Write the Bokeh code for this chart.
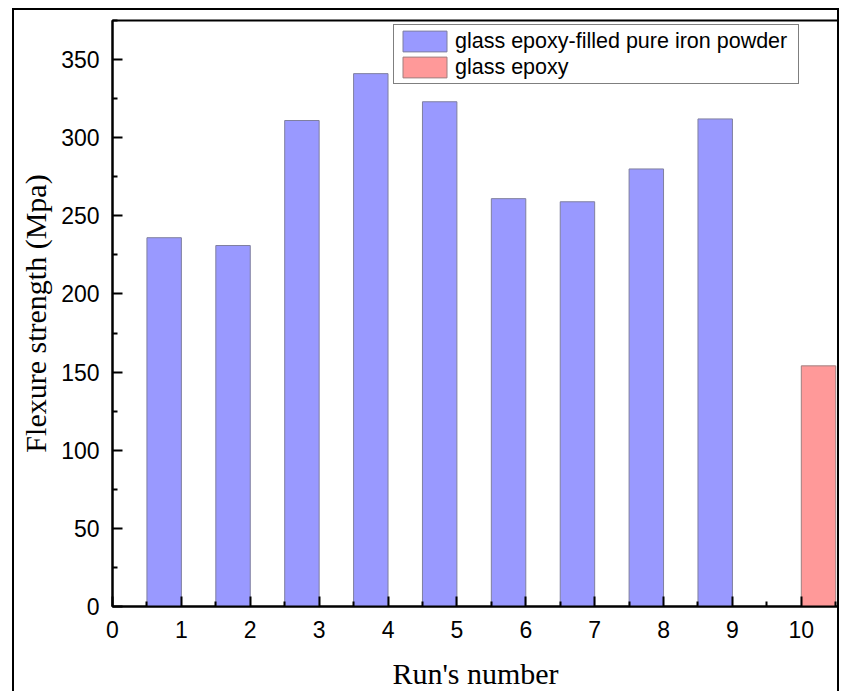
from bokeh.plotting import figure
from bokeh.models import Range1d, FixedTicker, Legend, LegendItem, ColumnDataSource
from bokeh.embed import file_html
from bokeh.resources import INLINE

# ---- data ----
runs = [1, 2, 3, 4, 5, 6, 7, 8, 9]
strength_filled = [236, 231, 311, 341, 323, 261, 259, 280, 312]
runs_plain = [10]
strength_plain = [154]
x_ticks = [0, 1, 2, 3, 4, 5, 6, 7, 8, 9, 10]
y_ticks = [0, 50, 100, 150, 200, 250, 300, 350]
series_names = ["glass epoxy-filled pure iron powder", "glass epoxy"]

bar_w = 0.5
src_a = ColumnDataSource(dict(x=[r - bar_w / 2 for r in runs], top=strength_filled))
src_b = ColumnDataSource(dict(x=[r + bar_w / 2 for r in runs_plain], top=strength_plain))

p = figure(width=827, height=683, output_backend="svg", toolbar_location=None,
           x_range=Range1d(0, 10.54), y_range=Range1d(0, 375),
           min_border_left=98, min_border_right=3, min_border_top=10, min_border_bottom=87)
p.styles = {"margin-left": "12px", "margin-top": "8px",
            "border-top": "2px solid black", "border-left": "2px solid black",
            "border-right": "2px solid black"}

ra = p.vbar(x="x", top="top", width=bar_w, bottom=0, source=src_a,
            fill_color="#9999FF", line_color="#7f7f9f", line_width=1)
rb = p.vbar(x="x", top="top", width=bar_w, bottom=0, source=src_b,
            fill_color="#FF9999", line_color="#9f7f7f", line_width=1)

p.xgrid.visible = False
p.ygrid.visible = False
p.outline_line_color = "black"
p.outline_line_width = 2
p.background_fill_color = "white"
p.border_fill_color = "white"

for ax in (p.xaxis[0], p.yaxis[0]):
    ax.axis_line_width = 2
    ax.axis_line_color = "black"
    ax.major_tick_in = 10
    ax.major_tick_out = 0
    ax.minor_tick_in = 5
    ax.minor_tick_out = 0
    ax.major_tick_line_width = 2
    ax.minor_tick_line_width = 2
    ax.major_tick_line_color = "black"
    ax.minor_tick_line_color = "black"
    ax.major_label_text_font = "Liberation Sans"
    ax.major_label_text_font_size = "23px"
    ax.major_label_text_color = "black"
    ax.major_label_text_line_height = 1.0
    ax.axis_label_text_font = "Liberation Serif"
    ax.axis_label_text_font_size = "30px"
    ax.axis_label_text_font_style = "normal"
    ax.axis_label_text_color = "black"
    ax.axis_label_text_line_height = 1.0

p.xaxis.ticker = FixedTicker(ticks=x_ticks,
                             minor_ticks=[t + 0.5 for t in x_ticks])
p.yaxis.ticker = FixedTicker(ticks=y_ticks,
                             minor_ticks=[t + 25 for t in y_ticks])
p.xaxis.axis_label = "Run's number"
p.yaxis.axis_label = "Flexure strength (Mpa)"
p.xaxis.major_label_standoff = 14
p.yaxis.major_label_standoff = 13
p.xaxis.axis_label_standoff = 16
p.yaxis.axis_label_standoff = 6

legend = Legend(items=[LegendItem(label=series_names[0], renderers=[ra]),
                       LegendItem(label=series_names[1], renderers=[rb])],
                location=(281, 522))
legend.margin = 0
legend.padding = 3
legend.spacing = 0
legend.glyph_width = 55
legend.glyph_height = 26
legend.label_height = 26
legend.label_width = 340
legend.label_standoff = 3
legend.label_text_font = "Liberation Sans"
legend.label_text_font_size = "21.5px"
legend.label_text_color = "black"
legend.border_line_color = "black"
legend.border_line_width = 1
legend.background_fill_alpha = 1
p.add_layout(legend, "center")

open("out.html", "w").write(file_html(p, INLINE))
